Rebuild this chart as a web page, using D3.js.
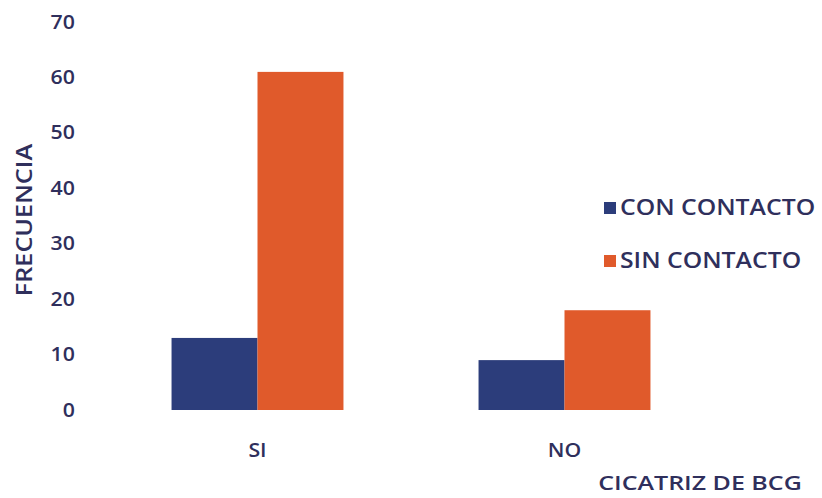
<!DOCTYPE html>
<html>
<head>
<meta charset="utf-8">
<script src="https://cdn.jsdelivr.net/npm/d3@7"></script>
<style>
    body { margin: 0; background: #fff; }
    svg text { font-family: "Open Sans", sans-serif; font-weight: 600; }
</style>
</head>
<body>
<div id="chart"></div>
<script>
// Data
const categories = ['SI', 'NO'];
const seriesNames = ['CON CONTACTO', 'SIN CONTACTO'];
const conContacto = [13, 9];
const sinContacto = [61, 18];
const yTicks = [0, 10, 20, 30, 40, 50, 60, 70];

const colors = {
    'CON CONTACTO': '#2c3d7b',
    'SIN CONTACTO': '#e05a2b'
};
const textColor = '#2f2f5c';

const width = 822;
const height = 498;

const svg = d3.select('#chart')
    .append('svg')
    .attr('width', width)
    .attr('height', height);

// Scales
const x = d3.scaleBand()
    .domain(categories)
    .range([104, 718])
    .paddingInner(0.44)
    .paddingOuter(0.22);

const xInner = d3.scaleBand()
    .domain(seriesNames)
    .range([0, x.bandwidth()]);

const y = d3.scaleLinear()
    .domain([0, 70])
    .range([410, 22]);

// Build rows for grouped bars
const rows = categories.map((c, i) => ({
    category: c,
    values: [
        { key: 'CON CONTACTO', value: conContacto[i] },
        { key: 'SIN CONTACTO', value: sinContacto[i] }
    ]
}));

// Bars
const groups = svg.selectAll('.group')
    .data(rows)
    .enter()
    .append('g')
    .attr('transform', d => `translate(${x(d.category)},0)`);

groups.selectAll('rect')
    .data(d => d.values)
    .enter()
    .append('rect')
    .attr('x', d => xInner(d.key))
    .attr('y', d => y(d.value))
    .attr('width', xInner.bandwidth())
    .attr('height', d => y(0) - y(d.value))
    .attr('fill', d => colors[d.key]);

// Y axis (no line, no ticks, just labels)
const yAxis = svg.append('g')
    .attr('transform', 'translate(85,0)')
    .call(d3.axisLeft(y).tickValues(yTicks).tickSize(0).tickPadding(9));
yAxis.select('.domain').remove();
yAxis.selectAll('text')
    .attr('fill', textColor)
    .style('font-size', '19px')
    .attr('transform', 'scale(1.12,1)');

// Category labels
svg.selectAll('.cat-label')
    .data(categories)
    .enter()
    .append('text')
    .attr('transform', d => `translate(${x(d) + x.bandwidth() / 2},450) scale(1.12,1)`)
    .attr('text-anchor', 'middle')
    .attr('dy', '0.35em')
    .attr('fill', textColor)
    .style('font-size', '19px')
    .text(d => d);

// Axis titles
svg.append('text')
    .attr('transform', 'translate(700,483) scale(1.25,1)')
    .attr('text-anchor', 'middle')
    .attr('dy', '0.35em')
    .attr('fill', textColor)
    .style('font-size', '20px')
    .text('CICATRIZ DE BCG');

svg.append('text')
    .attr('transform', 'translate(25,220) rotate(-90) scale(1.2,1)')
    .attr('text-anchor', 'middle')
    .attr('dy', '0.35em')
    .attr('fill', textColor)
    .style('font-size', '21px')
    .text('FRECUENCIA');

// Legend
const legend = svg.append('g')
    .attr('transform', 'translate(604,208)');

seriesNames.forEach((name, i) => {
    const item = legend.append('g')
        .attr('transform', `translate(0, ${i * 53})`);

    item.append('rect')
        .attr('y', -6)
        .attr('width', 12)
        .attr('height', 12)
        .attr('fill', colors[name]);

    item.append('text')
        .attr('transform', 'translate(16,0) scale(1.18,1)')
        .attr('dy', '0.35em')
        .attr('fill', textColor)
        .style('font-size', '21px')
        .text(name);
});
</script>
</body>
</html>
